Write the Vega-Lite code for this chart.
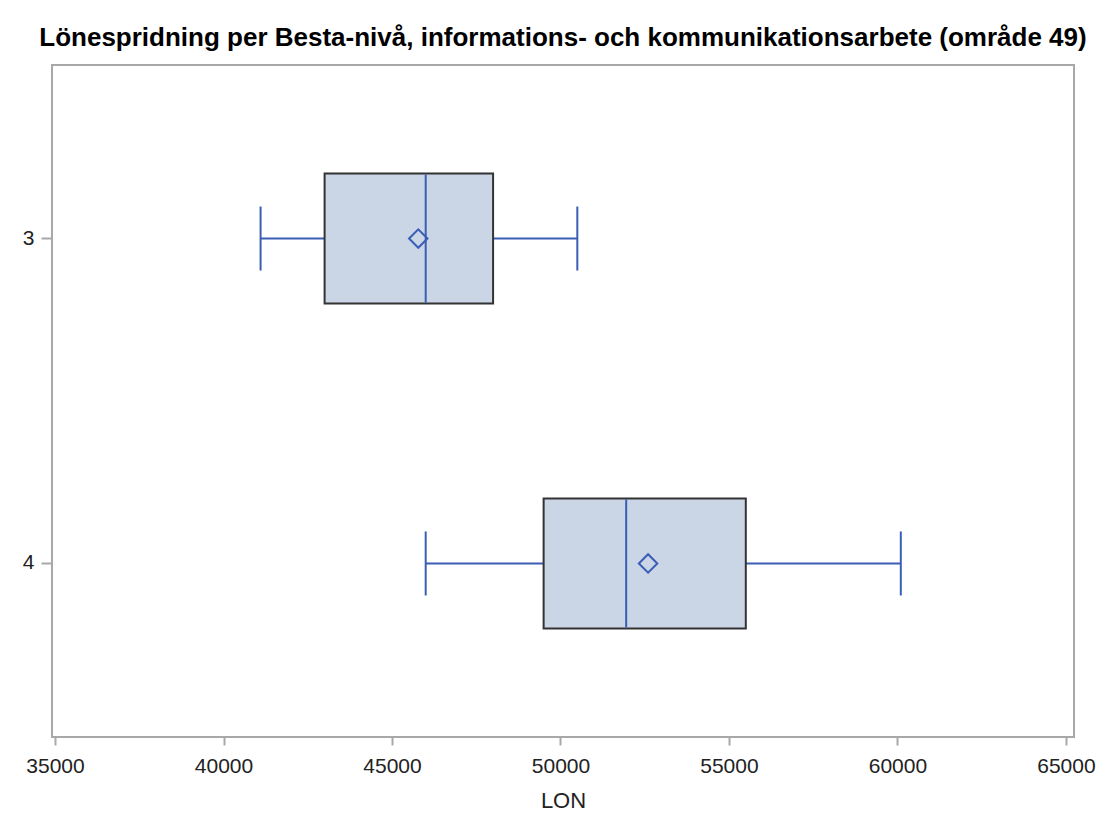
{
  "$schema": "https://vega.github.io/schema/vega-lite/v6.json",
  "width": 1022,
  "height": 672,
  "autosize": "none",
  "padding": {"left": 52, "top": 65, "right": 26, "bottom": 88},
  "background": "white",
  "title": {
    "text": "Lönespridning per Besta-nivå, informations- och kommunikationsarbete (område 49)",
    "font": "Liberation Sans",
    "fontSize": 26,
    "fontWeight": "bold",
    "color": "#000000",
    "anchor": "middle",
    "offset": 14
  },
  "config": {
    "view": {"stroke": "#A8A8A8", "strokeWidth": 2},
    "axisX": {
      "labelFont": "Liberation Sans",
      "labelFontSize": 21,
      "labelColor": "#222222",
      "titleFont": "Liberation Sans",
      "titleFontSize": 22,
      "titleFontWeight": "normal",
      "titleColor": "#222222",
      "titlePadding": 14,
      "tickSize": 8,
      "tickWidth": 2,
      "tickColor": "#A8A8A8",
      "labelPadding": 10,
      "domain": false,
      "grid": false
    },
    "axisY": {
      "labelFont": "Liberation Sans",
      "labelFontSize": 21,
      "labelColor": "#222222",
      "tickSize": 11,
      "tickWidth": 2,
      "tickColor": "#A8A8A8",
      "labelPadding": 7,
      "labelAngle": 0,
      "domain": false,
      "grid": false
    }
  },
  "data": {
    "values": [
      {"niva": "3", "low": 41100, "q1": 43000, "median": 46000, "q3": 48000, "high": 50500, "mean": 45780},
      {"niva": "4", "low": 46000, "q1": 49500, "median": 51950, "q3": 55500, "high": 60100, "mean": 52600}
    ]
  },
  "encoding": {
    "y": {
      "field": "niva",
      "type": "nominal",
      "title": null,
      "scale": {"type": "band", "paddingInner": 0.6, "paddingOuter": 0.334}
    }
  },
  "layer": [
    {
      "mark": {"type": "rule", "color": "#3A5DB5", "strokeWidth": 2},
      "encoding": {
        "x": {"field": "low", "type": "quantitative", "title": "LON", "scale": {"domain": [34910, 65240], "nice": false, "zero": false}, "axis": {"values": [35000, 40000, 45000, 50000, 55000, 60000, 65000], "format": "d"}},
        "x2": {"field": "q1"}
      }
    },
    {
      "mark": {"type": "rule", "color": "#3A5DB5", "strokeWidth": 2},
      "encoding": {
        "x": {"field": "q3", "type": "quantitative", "title": "LON"},
        "x2": {"field": "high"}
      }
    },
    {
      "mark": {"type": "tick", "color": "#3A5DB5", "size": 64, "thickness": 2, "opacity": 1},
      "encoding": {
        "x": {"field": "low", "type": "quantitative", "title": "LON"}
      }
    },
    {
      "mark": {"type": "tick", "color": "#3A5DB5", "size": 64, "thickness": 2, "opacity": 1},
      "encoding": {
        "x": {"field": "high", "type": "quantitative", "title": "LON"}
      }
    },
    {
      "mark": {"type": "bar", "fill": "#CAD5E5", "stroke": "#333333", "strokeWidth": 2},
      "encoding": {
        "x": {"field": "q1", "type": "quantitative", "title": "LON"},
        "x2": {"field": "q3"}
      }
    },
    {
      "mark": {"type": "tick", "color": "#3A5DB5", "size": 128, "thickness": 2, "opacity": 1},
      "encoding": {
        "x": {"field": "median", "type": "quantitative", "title": "LON"}
      }
    },
    {
      "mark": {"type": "point", "shape": "diamond", "filled": false, "size": 340, "strokeWidth": 2, "color": "#3A5DB5", "opacity": 1},
      "encoding": {
        "x": {"field": "mean", "type": "quantitative", "title": "LON"}
      }
    }
  ]
}
